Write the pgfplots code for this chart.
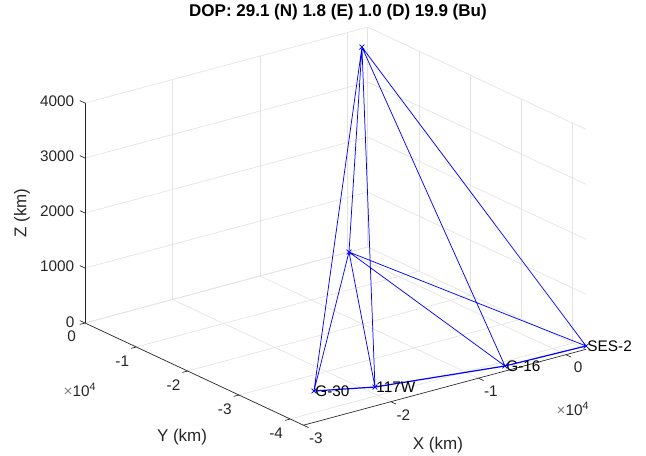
\documentclass[border=0pt]{standalone}
\usepackage{fontspec}
\setmainfont{Liberation Sans}
\usepackage{pgfplots}
\pgfplotsset{compat=1.18}
\definecolor{mlAxis}{HTML}{262626}
\definecolor{mlGrid}{HTML}{E3E3E3}
\definecolor{mlBlue}{HTML}{0000FF}

% x and y in units of 10^4 km, z in km
\pgfplotstableread{
x y z name
-2.393 -3.428 0 G-30
-1.888 -3.756 0 117W
-0.618 -4.124 0 G-16
0.230 -4.258 60 SES-2
}\groundpts

\pgfplotstableread{
x y z
-0.035 -0.341 3900
-1.000 -1.735 1193
}\airpts

% sight lines from the two upper points
\pgfplotstableread{
x y z
-0.035 -0.341 3900
-1.000 -1.735 1193
nan nan nan
-0.035 -0.341 3900
-2.393 -3.428 0
nan nan nan
-0.035 -0.341 3900
-1.888 -3.756 0
nan nan nan
-0.035 -0.341 3900
-0.618 -4.124 0
nan nan nan
-0.035 -0.341 3900
0.230 -4.258 60
nan nan nan
-1.000 -1.735 1193
-2.393 -3.428 0
nan nan nan
-1.000 -1.735 1193
-1.888 -3.756 0
nan nan nan
-1.000 -1.735 1193
-0.618 -4.124 0
nan nan nan
-1.000 -1.735 1193
0.230 -4.258 60
}\links

\begin{document}
\begin{tikzpicture}
\begin{axis}[
    x={(65.625pt,17.625pt)},
    y={(-38.475pt,18pt)},
    z={(0pt,0.04125pt)},
    xmin=-3, xmax=0.23,
    ymin=-4.258, ymax=0,
    zmin=0, zmax=4000,
    clip=false,
    axis line style={draw=none},
    grid=major,
    major grid style={mlGrid, line width=0.5pt},
    major tick style={draw=none},
    xtick pos=left, ytick pos=left, ztick pos=left,
    xtick={-3,-2,-1,0}, xticklabels={-3,-2,-1,0},
    ytick={-4,-3,-2,-1,0}, yticklabels={-4,-3,-2,-1,0},
    ztick={0,1000,2000,3000,4000}, zticklabels={0,1000,2000,3000,4000},
    ticklabel style={font=\fontsize{11.5}{13}\selectfont, text=mlAxis},
    xticklabel style={xshift=4pt, yshift=-1.5pt},
    yticklabel style={xshift=-4pt, yshift=-2pt},
    zticklabel style={xshift=-4.5pt},
    label style={font=\fontsize{12.75}{14}\selectfont, text=mlAxis},
    xlabel={X (km)},
    ylabel={Y (km)},
    zlabel={Z (km)},
    xlabel style={at={(axis cs:-2.331,-5.739,0)}, anchor=center},
    ylabel style={at={(axis cs:-4.065,-3.708,0)}, anchor=center},
    zlabel style={at={(axis cs:-3.72,0,2308)}, anchor=center},
    every axis title shift=0pt,
    title={DOP: 29.1 (N) 1.8 (E) 1.0 (D) 19.9 (Bu)},
    title style={at={(axis cs:-0.109,0,4419)}, anchor=center,
        font=\bfseries\fontsize{12.75}{14}\selectfont},
]
\addplot3[mlBlue, line width=0.55pt, unbounded coords=jump] table {\links};
% chain along the ground stations
\addplot3[mlBlue, line width=0.9pt] table {\groundpts};
\addplot3[only marks, mark=x, mark size=2.6pt, mlBlue,
    mark options={line width=0.55pt}] table {\airpts};
\addplot3[only marks, mark=x, mark size=2.6pt, mlBlue,
    mark options={line width=0.55pt},
    nodes near coords, point meta=explicit symbolic,
    nodes near coords style={anchor=west, text=black, inner sep=0.8pt,
        font=\fontsize{11.5}{13}\selectfont}] table[meta=name] {\groundpts};

% the three axis lines, as MATLAB draws them
\draw[mlAxis, line width=0.5pt] (axis cs:-3,0,0) -- (axis cs:-3,0,4000);
\draw[mlAxis, line width=0.5pt] (axis cs:-3,0,0) -- (axis cs:-3,-4.258,0);
\draw[mlAxis, line width=0.5pt] (axis cs:-3,-4.258,0) -- (axis cs:0.23,-4.258,0);
% tick marks
\pgfplotsinvokeforeach{-3,-2,-1,0}{
  \draw[mlAxis, line width=0.5pt] (axis cs:#1,-4.258,0) -- (axis cs:#1,-4.358,0);}
\pgfplotsinvokeforeach{-4,-3,-2,-1,0}{
  \draw[mlAxis, line width=0.5pt] (axis cs:-3,#1,0) -- (axis cs:-3.06,#1,0);}
\pgfplotsinvokeforeach{0,1000,2000,3000,4000}{
  \draw[mlAxis, line width=0.5pt] (axis cs:-3,0,#1) -- (axis cs:-3,0.1,#1);}

\node[text=mlAxis, font=\fontsize{11.5}{13}\selectfont, anchor=center]
    at (axis cs:-4.076,-1.738,0) {\textcolor{gray}{×}10\textsuperscript{4}};
\node[text=mlAxis, font=\fontsize{11.5}{13}\selectfont, anchor=center]
    at (axis cs:-0.791,-5.746,0) {\textcolor{gray}{×}10\textsuperscript{4}};

\coordinate (O) at (axis cs:-3,0,0);
\end{axis}
\pgfresetboundingbox
\path ([shift={(-63.75pt,242.25pt)}]O) rectangle ([shift={(420.75pt,-99.75pt)}]O);
\end{tikzpicture}
\end{document}
